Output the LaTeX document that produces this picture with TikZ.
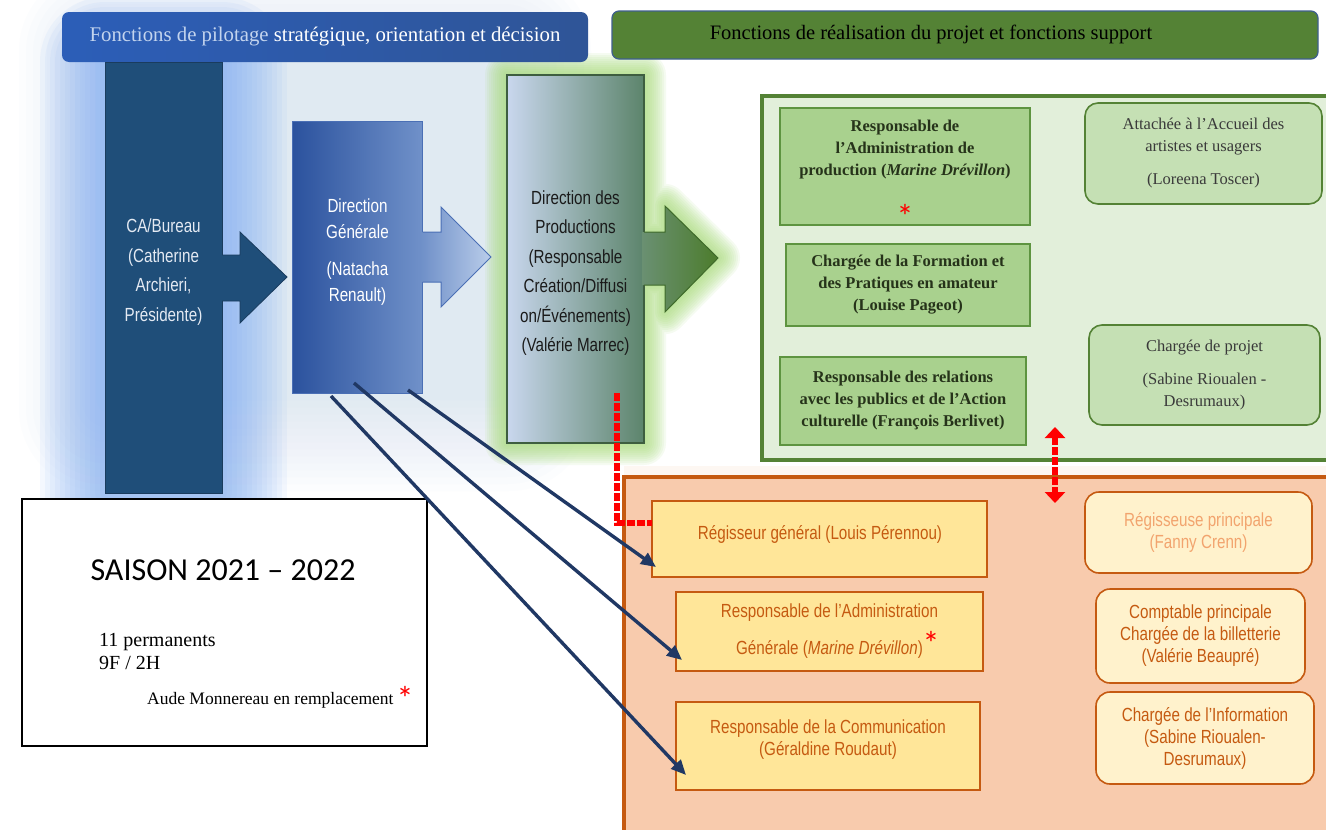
\documentclass[tikz,border=0pt]{standalone}
\usepackage{fontspec}
\setmainfont{Liberation Serif}
\newfontfamily\condf[FakeStretch=0.8]{Liberation Sans}
\newfontfamily\calib{Carlito}
\usetikzlibrary{arrows.meta}
\definecolor{cablue}{HTML}{1F4E79}
\definecolor{cabline}{HTML}{1A3C5E}
\definecolor{catext}{HTML}{E4EAF3}
\definecolor{hdrbL}{HTML}{2C5EB8}
\definecolor{hdrbR}{HTML}{2F5597}
\definecolor{hdrlight}{HTML}{C3D4EE}
\definecolor{hdrgreen}{HTML}{548235}
\definecolor{hdrgline}{HTML}{3F5F8F}
\definecolor{dgL}{HTML}{2B529E}
\definecolor{dgR}{HTML}{7091C9}
\definecolor{dgaL}{HTML}{6E8FC8}
\definecolor{dgaR}{HTML}{BACDEA}
\definecolor{dgline}{HTML}{4A6FB5}
\definecolor{dpL}{HTML}{C9D7EE}
\definecolor{dpR}{HTML}{5C846B}
\definecolor{dpline}{HTML}{3E5E40}
\definecolor{dptext}{HTML}{1A1A1A}
\definecolor{dpaL}{HTML}{6A9072}
\definecolor{dpaR}{HTML}{4C7C2C}
\definecolor{dpaline}{HTML}{3F6A2A}
\definecolor{glowblue}{HTML}{78A8F2}
\definecolor{glowgreen}{HTML}{A6DC76}
\definecolor{wash}{HTML}{C9DAF2}
\definecolor{gcont}{HTML}{E2EFDA}
\definecolor{gline}{HTML}{548235}
\definecolor{gsqfill}{HTML}{A9D18E}
\definecolor{gsqline}{HTML}{5E9440}
\definecolor{grndfill}{HTML}{C5E0B4}
\definecolor{gtext}{HTML}{26331A}
\definecolor{gtext2}{HTML}{3A3A3A}
\definecolor{ocont}{HTML}{F8CBAD}
\definecolor{oline}{HTML}{C55A11}
\definecolor{osqfill}{HTML}{FFE699}
\definecolor{orndfill}{HTML}{FFF2CC}
\definecolor{otext}{HTML}{C55A11}
\definecolor{otextl}{HTML}{F2A46E}
\definecolor{navy}{HTML}{203864}
\begin{document}
\begin{tikzpicture}[x=1pt,y=-1pt,
  bigtxt/.style={font=\condf\fontsize{19}{29.5}\selectfont, align=center, inner sep=0},
  gsq/.style={draw=gsqline, line width=1.8, fill=gsqfill},
  gsqtxt/.style={font=\bfseries\fontsize{16.5}{22}\selectfont, align=center, text=gtext},
  grnd/.style={draw=gline, line width=1.6, fill=grndfill, rounded corners=13},
  grndtxt/.style={font=\fontsize{16.5}{22}\selectfont, align=center, text=gtext2},
  osq/.style={draw=oline, line width=1.8, fill=osqfill},
  otxt/.style={font=\condf\fontsize{19}{22}\selectfont, align=center, text=otext},
  ornd/.style={draw=oline, line width=1.6, fill=orndfill, rounded corners=14},
  navyarrow/.style={draw=navy, line width=3.4, -{Triangle[length=15pt,width=13pt]}},
  reddash/.style={draw=red, line width=5.5, dash pattern=on 8pt off 2pt},
  redstar/.style={text=red, font=\calib\fontsize{34}{34}\selectfont, inner sep=0}
]
\useasboundingbox (0,0) rectangle (1326,830);
\clip (0,0) rectangle (1326,830);
\fill[white] (0,0) rectangle (1326,830);

% pale blue wash and glow around the CA column
\begin{scope}
  \clip (0,0) rectangle (720,500);
  \foreach \i in {0,...,13}
    \fill[wash, opacity=0.045, rounded corners={4+\i*6}] ({110-\i*7},{60-\i*7}) rectangle ({500+\i*7},{400+\i*7});
  \foreach \w in {10,20,...,130}
    \draw[glowblue, line width=\w, opacity=0.075, line join=round] (105,62) rectangle (222,493);
\end{scope}

% green glow around the production direction
\foreach \w in {4,8,...,44}
  \draw[glowgreen, line width=\w, opacity=0.1, line join=round]
    (507,75) -- (644,75) -- (644,232) -- (665,232) -- (665,206) -- (718,258)
    -- (665,312) -- (665,285) -- (644,285) -- (644,443) -- (507,443) -- cycle;

% headers
\node[rounded corners=7, minimum width=526, minimum height=50, left color=hdrbL, right color=hdrbR,
      font=\fontsize{20.8}{24}\selectfont, text=white] (hdrL) at (325,37)
  {\textcolor{hdrlight}{Fonctions de pilotage} stratégique, orientation et décision};
\node[rounded corners=7, minimum width=706, minimum height=48, fill=hdrgreen, draw=hdrgline, line width=1.2] (hdrR) at (965,35) {};
\node[font=\fontsize{20.5}{24}\selectfont, text=black] (hdrRt) at (931,34)
  {Fonctions de réalisation du projet et fonctions support};

% CA / Bureau column
\node[fill=cablue, draw=cabline, line width=1, minimum width=117, minimum height=431] (ca) at (163.5,277.5) {};
\fill[cablue] (220,255) -- (240,255) -- (240,232) -- (287,277) -- (240,323) -- (240,301) -- (220,301) -- cycle;
\draw[cabline, line width=0.8] (222,255) -- (240,255) -- (240,232) -- (287,277) -- (240,323) -- (240,301) -- (222,301);
\node[bigtxt, text=catext] (cat) at (163.5,272) {CA/Bureau\\(Catherine\\Archieri,\\Présidente)};

% Direction generale
\node[left color=dgL, right color=dgR, draw=dgline, line width=1, minimum width=130, minimum height=272] (dg) at (357.5,257) {};
\shade[left color=dgaL, right color=dgaR] (420,232) -- (441,232) -- (441,207) -- (491,257) -- (441,307) -- (441,282) -- (420,282) -- cycle;
\draw[dgline, line width=1] (422.5,232) -- (441,232) -- (441,207) -- (491,257) -- (441,307) -- (441,282) -- (422.5,282);
\node[bigtxt, text=white, font=\condf\fontsize{19}{26}\selectfont] (dgt) at (357.5,252) {Direction\\Générale\\[11pt](Natacha\\Renault)};

% Direction des productions
\node[left color=dpL, right color=dpR, draw=dpline, line width=1.2, minimum width=137, minimum height=368] (dp) at (575.5,259) {};
\shade[left color=dpaL, right color=dpaR] (642,232) -- (665,232) -- (665,206) -- (718,258) -- (665,312) -- (665,285) -- (642,285) -- cycle;
\draw[dpaline, line width=1] (644,232) -- (665,232) -- (665,206) -- (718,258) -- (665,312) -- (665,285) -- (644,285);
\node[bigtxt, text=dptext] (dpt) at (575.5,273) {Direction des\\Productions\\(Responsable\\Création/Diffusi\\on/Événements)\\(Valérie Marrec)};

% green container
\node[draw=gline, line width=4, fill=gcont, minimum width=583, minimum height=364] (gcon) at (1053.5,278) {};
\node[gsq, minimum width=250, minimum height=117] (ga) at (905,166.5) {};
\node[gsqtxt] (gat) at (905,150) {Responsable de\\l’Administration de\\production (\textit{Marine Drévillon})};
\node[redstar] (gas) at (905,216) {*};
\node[gsq, gsqtxt, minimum width=244, minimum height=82] (gb) at (908,285) {Chargée de la Formation et\\des Pratiques en amateur\\(Louise Pageot)};
\node[gsq, gsqtxt, minimum width=246, minimum height=88] (gc) at (903,401) {Responsable des relations\\avec les publics et de l’Action\\culturelle (François Berlivet)};
\node[grnd, grndtxt, minimum width=237, minimum height=101] (gd) at (1203.5,153.5) {Attachée à l’Accueil des\\artistes et usagers\\[11pt](Loreena Toscer)};
\node[grnd, grndtxt, minimum width=231, minimum height=100] (ge) at (1204.5,375) {Chargée de projet\\[11pt](Sabine Rioualen -\\Desrumaux)};

% orange container
\fill[ocont, opacity=0.15] (624,466) rectangle (1326,477);
\node[draw=oline, line width=4, fill=ocont, minimum width=721, minimum height=368] (ocon) at (984.5,661) {};
\node[osq, minimum width=335, minimum height=76] (reg) at (819.5,539) {};
\node[otxt] (regt) at (820,534) {Régisseur général (Louis Pérennou)};
\node[osq, otxt, minimum width=307, minimum height=79] (adm) at (829.5,631.5) {Responsable de l’Administration\\[15pt]Générale (\textit{Marine Drévillon})};
\node[redstar] (adms) at (931,643) {*};
\node[osq, minimum width=304, minimum height=88] (com) at (828,746) {};
\node[otxt] (comt) at (828,740) {Responsable de la Communication\\(Géraldine Roudaut)};
\node[ornd, otxt, text=otextl, minimum width=227, minimum height=81] (rp) at (1198.5,532.5) {Régisseuse principale\\(Fanny Crenn)};
\node[ornd, otxt, minimum width=209, minimum height=94] (cp) at (1200.5,636) {Comptable principale\\Chargée de la billetterie\\(Valérie Beaupré)};
\node[ornd, otxt, minimum width=218, minimum height=92] (ci) at (1205,738) {Chargée de l’Information\\(Sabine Rioualen-\\Desrumaux)};

% saison box
\node[draw=black, line width=1.2, fill=white, minimum width=405, minimum height=247] (sbox) at (224.5,622.5) {};
\node[font=\calib\fontsize{32}{38}\selectfont] (sai) at (223,570) {SAISON 2021 – 2022};
\node[anchor=west, align=left, font=\fontsize{20}{23}\selectfont, inner sep=0] (perm) at (99,651) {11 permanents\\9F / 2H};
\node[anchor=west, font=\fontsize{17.5}{20}\selectfont, inner sep=0] (aude) at (147,700) {Aude Monnereau en remplacement};
\node[redstar] (audes) at (405,698) {*};

% connectors
\coordinate (s1) at (408,390); \coordinate (t1) at (656,567);
\coordinate (s2) at (354,383); \coordinate (t2) at (682,660);
\coordinate (s3) at (331,396); \coordinate (t3) at (686,775);
\draw[navyarrow] (s1) -- (t1);
\draw[navyarrow] (s2) -- (t2);
\draw[navyarrow] (s3) -- (t3);

\coordinate (rl0) at (617,393); \coordinate (rl1) at (652,523);
\draw[reddash] (rl0) |- (rl1);
\coordinate (rd0) at (1055,427); \coordinate (rd1) at (1055,503);
\draw[reddash, {Triangle[length=11pt,width=20pt]}-{Triangle[length=11pt,width=20pt]}] (rd0) -- (rd1);
\end{tikzpicture}
\end{document}
